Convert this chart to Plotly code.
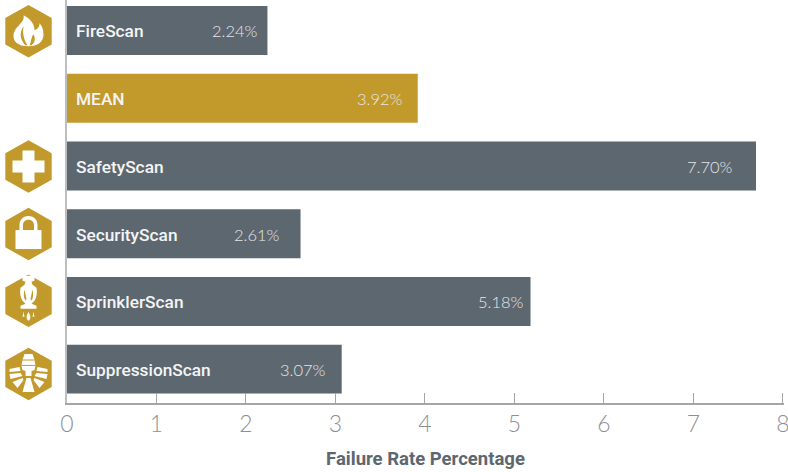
import re
import plotly.graph_objects as go

categories = ["FireScan", "MEAN", "SafetyScan", "SecurityScan", "SprinklerScan", "SuppressionScan"]
failure_rates = [2.24, 3.92, 7.70, 2.61, 5.18, 3.07]
x_ticks = [0, 1, 2, 3, 4, 5, 6, 7, 8]
x_title = "Failure Rate Percentage"

W, H = 788, 472
L, R, T, B = 67, 4, 0, 68.6
GOLD = "#C29A2C"
SLATE = "#5D6770"
AXIS = "#A3A5A7"
TICKTXT = "#8D9093"
BODY_FONT = "Roboto, Lato, sans-serif"
LIGHT_FONT = "'Lato Light', Lato, sans-serif"

# right-hand inset of each value label inside its bar (styling, px)
value_inset = [7, 13, 21, 19, 5, 14]
colors = [GOLD if c == "MEAN" else SLATE for c in categories]

fig = go.Figure(go.Bar(
    y=categories, x=failure_rates, orientation="h",
    marker=dict(color=colors, line_width=0), width=0.723,
    hoverinfo="skip",
))

for c, v, inset in zip(categories, failure_rates, value_inset):
    fig.add_annotation(x=0, y=c, xref="x", yref="y", text=c, showarrow=False,
                       xanchor="left", xshift=7, yshift=-1,
                       font=dict(family=BODY_FONT, size=17.3, color="#F4F5F5", weight=500))
    fig.add_annotation(x=v, y=c, xref="x", yref="y", text=f"{v:.2f}%", showarrow=False,
                       xanchor="right", xshift=-inset, yshift=-1,
                       font=dict(family=LIGHT_FONT, size=16.5, color="#E4E6E8"))


def conv(path, cx, cy):
    """Icon outline written in px around (cx, cy); converted to paper coords."""
    pw, ph = W - L - R, H - T - B
    toks = re.findall(r"[A-Za-z]|-?\d+\.?\d*", path)
    out, isx = [], True
    for t in toks:
        if t.isalpha():
            out.append(t)
            isx = True
        else:
            v = float(t)
            if isx:
                out.append(f"{(cx + v - L) / pw:.5f}")
            else:
                out.append(f"{1 - (cy + v - T) / ph:.5f}")
            isx = not isx
    s = ""
    for o in out:
        s += (" " if s and not o.isalpha() and s[-1] not in "MLCQZ" else "") + o
    return s


def shape(path, cx, cy, fill):
    fig.add_shape(type="path", path=conv(path, cx, cy), xref="paper", yref="paper",
                  fillcolor=fill, line_width=0, layer="above")


HEX = "M0 -26.3 L23.2 -13.2 L23.2 13.2 L0 26.3 L-23.2 13.2 L-23.2 -13.2 Z"
WHITE = "#FFFFFF"

# Flame
cx, cy = 28.5, 31.3
shape(HEX, cx, cy, GOLD)
shape("M-5 -16 C-3 -8 -15 -5 -15 5 C-15 12 -8 15 0 15 C9 15 15 11 15 3 C15 -2 13 -6 11 -8 "
      "C11 -4 9 -2 6 -1 C6 -8 1 -13 -5 -16 Z", cx, cy, WHITE)
shape("M-5 -5 C-9 1 -9 8 -3 14 L-1 14 C-5 8 -6 2 -5 -5 Z", cx, cy, GOLD)
shape("M5 3 C2 7 3 11 1 14 L3 14 C7 11 7 7 5 3 Z", cx, cy, GOLD)

# Cross
cx, cy = 28.5, 166.7
shape(HEX, cx, cy, GOLD)
shape("M-6 -16 L6 -16 L6 -6 L16 -6 L16 6 L6 6 L6 16 L-6 16 L-6 6 L-16 6 L-16 -6 L-6 -6 Z",
      cx, cy, WHITE)

# Padlock
cx, cy = 28.5, 234.3
shape(HEX, cx, cy, GOLD)
shape("M-13 -4 L13 -4 L13 15 L-13 15 Z", cx, cy, WHITE)
shape("M-9 -4 L-9 -9 C-9 -21 9 -21 9 -9 L9 -4 L5.5 -4 L5.5 -9 C5.5 -16 -5.5 -16 -5.5 -9 L-5.5 -4 Z",
      cx, cy, WHITE)

# Sprinkler
cx, cy = 28.5, 301
shape(HEX, cx, cy, GOLD)
shape("M-6 -25 L6 -25 L6 -20 L3 -19 L4 -16 L8 -13 C9 -8 8 -3 6 0 L3 3 L8 5 L8 8 L-8 8 L-8 5 L-3 3 "
      "L-6 0 C-8 -3 -9 -8 -8 -13 L-4 -16 L-3 -19 L-6 -20 Z", cx, cy, WHITE)
shape("M-4 -11 C-5 -7 -5 -3 -3 0 L-2 -2 C-3 -5 -3 -8 -4 -11 Z", cx, cy, GOLD)
shape("M4 -11 C5 -7 5 -3 3 0 L2 -2 C3 -5 3 -8 4 -11 Z", cx, cy, GOLD)
shape("M0 11 C2 15 3 18 0 20 C-3 18 -2 15 0 11 Z", cx, cy, WHITE)
shape("M-5 11 L-4 16 L-6 16 Z", cx, cy, WHITE)
shape("M5 11 L6 16 L4 16 Z", cx, cy, WHITE)

# Suppression nozzle
cx, cy = 28.5, 374.3
shape(HEX, cx, cy, GOLD)
shape("M-4 -20 L4 -20 L6 -14 L7 -8 L6 -4 L3 -3 L3 2 L-3 2 L-3 -3 L-6 -4 L-7 -8 L-6 -14 Z", cx, cy, WHITE)
shape("M-6 -14.5 L6 -14.5 L6.3 -13.5 L-6.3 -13.5 Z", cx, cy, GOLD)
shape("M-7 -9 L7 -9 L7 -8 L-7 -8 Z", cx, cy, GOLD)
shape("M-19 -5 L-9 -7 L-8 -3 L-19 -2 Z", cx, cy, WHITE)
shape("M19 -5 L9 -7 L8 -3 L19 -2 Z", cx, cy, WHITE)
shape("M-19 0 L-8 -1 L-6 2 L-18 5 Z", cx, cy, WHITE)
shape("M19 0 L8 -1 L6 2 L18 5 Z", cx, cy, WHITE)
shape("M-16 8 L-6 4 L-5 6 L-11 14 Z", cx, cy, WHITE)
shape("M16 8 L6 4 L5 6 L11 14 Z", cx, cy, WHITE)
shape("M-2 4 L2 4 L6 18 L-6 18 Z", cx, cy, WHITE)

fig.update_layout(
    width=W, height=H, margin=dict(l=L, r=R, t=T, b=B, pad=0, autoexpand=False),
    paper_bgcolor="white", plot_bgcolor="white", showlegend=False,
    xaxis=dict(range=[0, 8.013], tickvals=x_ticks, ticks="inside", ticklen=10, tickwidth=1.3,
               tickcolor=AXIS, showline=True, linecolor=AXIS, linewidth=1.5, showgrid=False,
               zeroline=False, ticklabeloverflow="allow",
               tickfont=dict(family=LIGHT_FONT, size=23, color=TICKTXT),
               title=dict(text=x_title, standoff=16,
                          font=dict(family=BODY_FONT, size=18.5, color=SLATE, weight=700))),
    yaxis=dict(type="category", categoryorder="array", categoryarray=categories,
               range=[5.5, -0.45], showticklabels=False, ticks="", showgrid=False,
               zeroline=False, showline=True, linecolor="#BDBEBF", linewidth=1.5),
)

fig.write_html("out.html", post_script="document.body.style.margin='0';",
               config={"displayModeBar": False})
